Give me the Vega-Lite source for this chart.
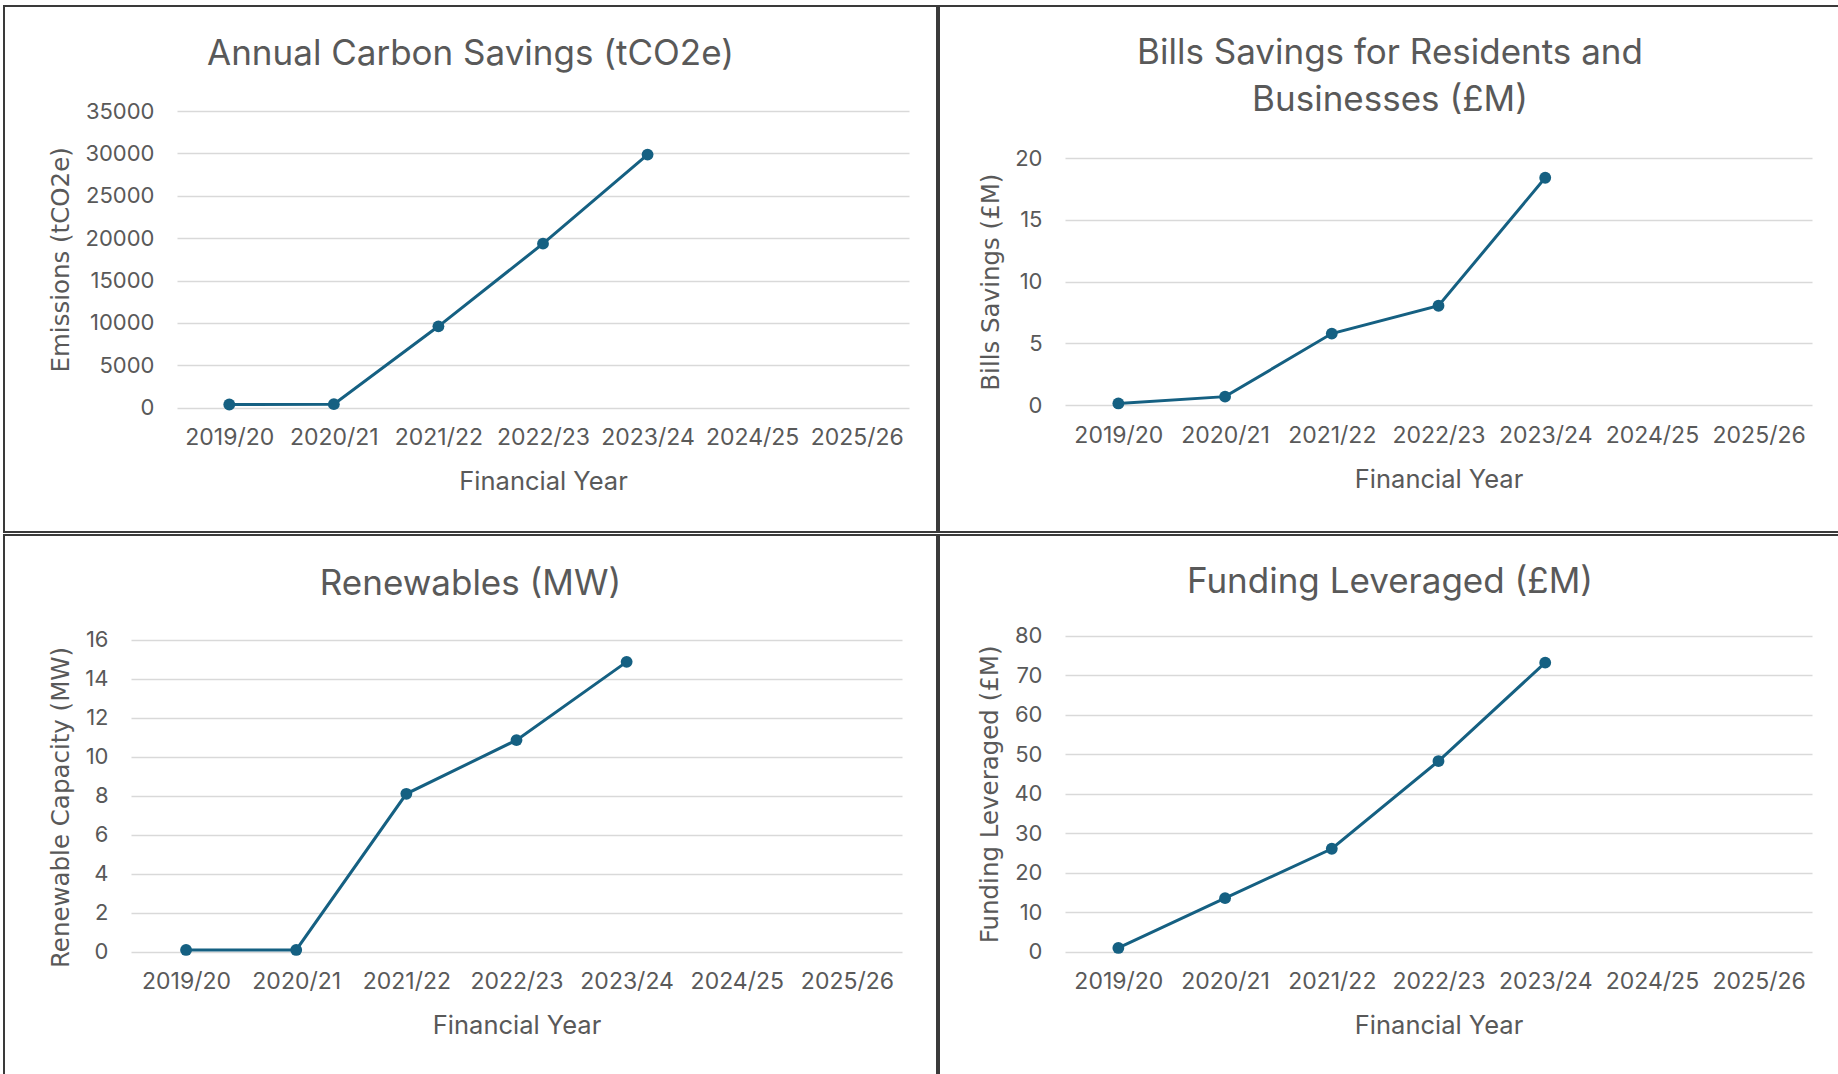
{
  "$schema": "https://vega.github.io/schema/vega-lite/v6.json",
  "padding": {"left": 3, "top": 5, "right": 0, "bottom": 0},
  "background": "white",
  "config": {
    "view": {"stroke": "#3a3a3a", "strokeWidth": 2, "fill": "white"},
    "axis": {
      "domain": false,
      "ticks": false,
      "labelFont": "Inter",
      "labelFontSize": 22,
      "labelColor": "#595959",
      "titleColor": "#595959",
      "titleFontWeight": "normal",
      "gridColor": "#D9D9D9",
      "gridWidth": 1.5
    },
    "axisX": {"grid": false, "labelAngle": 0, "labelFontSize": 23, "titleFont": "Inter", "titleFontSize": 25.5, "labelPadding": 19, "titlePadding": 20},
    "axisY": {"grid": true, "titleFont": "DejaVu Sans", "titleFontSize": 24.5, "labelPadding": 23, "titlePadding": 11},
    "title": {"font": "Inter", "fontSize": 35, "fontWeight": "normal", "color": "#595959", "anchor": "middle", "frame": "group", "baseline": "alphabetic"}
  },
  "datasets": {
    "carbon": [
      {"year": "2019/20", "value": 380},
      {"year": "2020/21", "value": 420},
      {"year": "2021/22", "value": 9600},
      {"year": "2022/23", "value": 19350},
      {"year": "2023/24", "value": 29860}
    ],
    "bills": [
      {"year": "2019/20", "value": 0.15},
      {"year": "2020/21", "value": 0.7},
      {"year": "2021/22", "value": 5.8},
      {"year": "2022/23", "value": 8.05},
      {"year": "2023/24", "value": 18.4}
    ],
    "renew": [
      {"year": "2019/20", "value": 0.1},
      {"year": "2020/21", "value": 0.1},
      {"year": "2021/22", "value": 8.1},
      {"year": "2022/23", "value": 10.85},
      {"year": "2023/24", "value": 14.86}
    ],
    "funding": [
      {"year": "2019/20", "value": 1.0},
      {"year": "2020/21", "value": 13.6},
      {"year": "2021/22", "value": 26.1},
      {"year": "2022/23", "value": 48.3},
      {"year": "2023/24", "value": 73.2}
    ]
  },
  "bounds": "flush",
  "columns": 2,
  "spacing": {"row": 3, "column": 2},
  "concat": [
    {
      "width": 933,
      "height": 526,
      "title": {"text": "Annual Carbon Savings (tCO2e)", "offset": -66},
      "data": {"name": "carbon"},
      "encoding": {
        "x": {"field": "year", "type": "ordinal", "sort": null,
          "scale": {"type": "point", "domain": ["2019/20", "2020/21", "2021/22", "2022/23", "2023/24", "2024/25", "2025/26"], "range": [173, 905], "padding": 0.5},
          "axis": {"title": "Financial Year", "offset": -124.3}},
        "y": {"field": "value", "type": "quantitative",
          "scale": {"domain": [0, 35000], "range": [401.7, 105], "nice": false},
          "axis": {"title": "Emissions (tCO2e)", "values": [0, 5000, 10000, 15000, 20000, 25000, 30000, 35000], "format": "d", "offset": -173}}
      },
      "layer": [
        {"mark": {"type": "line", "color": "#156082", "strokeWidth": 3}},
        {"mark": {"type": "point", "filled": true, "size": 140, "color": "#156082", "opacity": 1}}
      ]
    },
    {
      "width": 902,
      "height": 526,
      "title": {"text": ["Bills Savings for Residents and", "Businesses (£M)"], "offset": -111.7, "lineHeight": 47},
      "data": {"name": "bills"},
      "encoding": {
        "x": {"field": "year", "type": "ordinal", "sort": null,
          "scale": {"type": "point", "domain": ["2019/20", "2020/21", "2021/22", "2022/23", "2023/24", "2024/25", "2025/26"], "range": [126, 873], "padding": 0.5},
          "axis": {"title": "Financial Year", "offset": -126.7}},
        "y": {"field": "value", "type": "quantitative",
          "scale": {"domain": [0, 20], "range": [399.3, 152], "nice": false},
          "axis": {"title": "Bills Savings (£M)", "values": [0, 5, 10, 15, 20], "format": "d", "offset": -126}}
      },
      "layer": [
        {"mark": {"type": "line", "color": "#156082", "strokeWidth": 3}},
        {"mark": {"type": "point", "filled": true, "size": 140, "color": "#156082", "opacity": 1}}
      ]
    },
    {
      "width": 933,
      "height": 542,
      "title": {"text": "Renewables (MW)", "offset": -67},
      "data": {"name": "renew"},
      "encoding": {
        "x": {"field": "year", "type": "ordinal", "sort": null,
          "scale": {"type": "point", "domain": ["2019/20", "2020/21", "2021/22", "2022/23", "2023/24", "2024/25", "2025/26"], "range": [127, 898], "padding": 0.5},
          "axis": {"title": "Financial Year", "offset": -125.1}},
        "y": {"field": "value", "type": "quantitative",
          "scale": {"domain": [0, 16], "range": [416.9, 104.6], "nice": false},
          "axis": {"title": "Renewable Capacity (MW)", "titleY": 272, "values": [0, 2, 4, 6, 8, 10, 12, 14, 16], "format": "d", "offset": -127}}
      },
      "layer": [
        {"mark": {"type": "line", "color": "#156082", "strokeWidth": 3}},
        {"mark": {"type": "point", "filled": true, "size": 140, "color": "#156082", "opacity": 1}}
      ]
    },
    {
      "width": 902,
      "height": 542,
      "title": {"text": "Funding Leveraged (£M)", "offset": -65},
      "data": {"name": "funding"},
      "encoding": {
        "x": {"field": "year", "type": "ordinal", "sort": null,
          "scale": {"type": "point", "domain": ["2019/20", "2020/21", "2021/22", "2022/23", "2023/24", "2024/25", "2025/26"], "range": [126, 873], "padding": 0.5},
          "axis": {"title": "Financial Year", "offset": -125.1}},
        "y": {"field": "value", "type": "quantitative",
          "scale": {"domain": [0, 80], "range": [416.9, 100.8], "nice": false},
          "axis": {"title": "Funding Leveraged (£M)", "values": [0, 10, 20, 30, 40, 50, 60, 70, 80], "format": "d", "offset": -126}}
      },
      "layer": [
        {"mark": {"type": "line", "color": "#156082", "strokeWidth": 3}},
        {"mark": {"type": "point", "filled": true, "size": 140, "color": "#156082", "opacity": 1}}
      ]
    }
  ]
}
